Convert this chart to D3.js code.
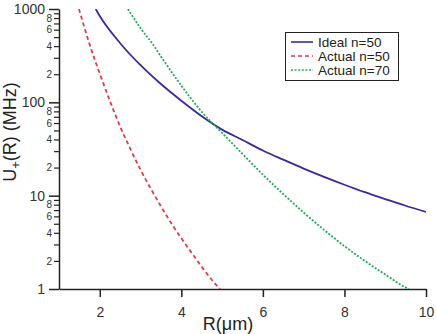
<!DOCTYPE html>
<html lang="en">
<head>
    <meta charset="UTF-8">
    <title>U+(R)</title>
    <script src="https://cdnjs.cloudflare.com/ajax/libs/d3/7.8.5/d3.min.js"></script>
    <style>
        body { margin: 0; background: #fff; }
        svg { display: block; font-family: "Liberation Sans", Arial, sans-serif; }
    </style>
</head>
<body>
<div id="chart"></div>
<script>
    // curve values
    var idealR   = [1.9, 2, 2.5, 3, 3.5, 4, 4.5, 5, 5.5, 6, 6.5, 7, 7.5, 8, 8.5, 9, 9.5, 10];
    var idealU   = [1000, 840, 430, 250, 157, 104, 71, 51, 39.5, 30.5, 24.3, 19.5, 15.9, 13.1, 10.9, 9.2, 7.8, 6.7];

    var act50R   = [1.49, 1.5, 1.75, 2, 2.25, 2.5, 2.75, 3, 3.25, 3.5, 3.75, 4, 4.25, 4.5, 4.75, 4.95];
    var act50U   = [1000, 966, 418, 203, 103, 55, 31.7, 18.9, 11.9, 7.7, 5.1, 3.5, 2.45, 1.73, 1.25, 1.0];

    var act70R   = [2.69, 3, 3.31, 3.5, 4, 4.5, 5, 5.5, 6, 6.5, 7, 7.5, 8, 8.5, 9, 9.5, 9.58];
    var act70U   = [1000, 622, 414, 310, 151, 79, 47, 28, 16.8, 10.4, 6.6, 4.3, 2.88, 2.0, 1.43, 1.04, 1.0];

    var xTicks = [2, 4, 6, 8, 10];
    var yMajor = [1, 10, 100, 1000];
    var legendNames = ["Ideal n=50", "Actual n=50", "Actual n=70"];

    var w = 436, h = 334;
    var x0 = 59, x1 = 426, yTop = 9, yBot = 289;

    var svg = d3.select("#chart").append("svg")
        .attr("width", w)
        .attr("height", h);

    var x = d3.scaleLinear().domain([1, 10]).range([x0, x1]);
    var y = d3.scaleLog().domain([1, 1000]).range([yBot, yTop]);

    svg.append("clipPath").attr("id", "plot")
        .append("rect").attr("x", x0).attr("y", yTop)
        .attr("width", x1 - x0).attr("height", yBot - yTop);

    // y axis: every 1..9 per decade, labels on majors and 2,4,6,8
    var yTicks = [];
    yMajor.forEach(function(m) {
        if (m === 1000) { yTicks.push(m); return; }
        for (var k = 1; k <= 9; k++) yTicks.push(m * k);
    });
    function lead(v) { return Math.round(v / Math.pow(10, Math.floor(Math.log10(v) + 1e-9))); }

    var yAxis = svg.append("g")
        .attr("transform", "translate(" + x0 + ",0)")
        .call(d3.axisLeft(y).tickValues(yTicks).tickSizeOuter(0).tickFormat(function(d) {
            var l = lead(d);
            if (l === 1) return d;
            return (l % 2 === 0) ? l : "";
        }));
    yAxis.select(".domain").attr("stroke", "#222").attr("stroke-width", 1.5);
    yAxis.selectAll(".tick").each(function(d) {
        var t = d3.select(this);
        var major = lead(d) === 1;
        t.select("line").attr("x2", major ? -10 : -5).attr("stroke", "#222").attr("stroke-width", major ? 1.5 : 1.2);
        t.select("text")
            .attr("x", major ? -14 : -7)
            .attr("fill", "#333")
            .style("font-size", major ? "14px" : "10px");
    });

    // x axis
    var xAxis = svg.append("g")
        .attr("transform", "translate(0," + yBot + ")")
        .call(d3.axisBottom(x).tickValues(xTicks).tickSize(8).tickPadding(10).tickSizeOuter(0));
    xAxis.select(".domain").attr("stroke", "#222").attr("stroke-width", 1.5);
    xAxis.selectAll(".tick line").attr("stroke", "#222").attr("stroke-width", 1.5);
    xAxis.selectAll(".tick text").attr("fill", "#333").style("font-size", "14px");

    // axis titles
    svg.append("text")
        .attr("x", 228).attr("y", 330)
        .attr("text-anchor", "middle")
        .attr("fill", "#222")
        .style("font-size", "18px")
        .text("R(μm)");

    var yt = svg.append("text")
        .attr("transform", "translate(16,132) rotate(-90)")
        .attr("text-anchor", "middle")
        .attr("fill", "#222")
        .style("font-size", "18px");
    yt.append("tspan").text("U");
    yt.append("tspan").attr("dy", 4).style("font-size", "13px").text("+");
    yt.append("tspan").attr("dy", -4).text("(R) (MHz)");

    // curves
    var series = [
        { r: idealR, u: idealU, color: "#3b2a9c", dash: null },
        { r: act50R, u: act50U, color: "#e23c46", dash: "4,3" },
        { r: act70R, u: act70U, color: "#22ad52", dash: "2,1.6" }
    ];

    var line = d3.line()
        .x(function(d) { return x(d[0]); })
        .y(function(d) { return y(d[1]); })
        .curve(d3.curveMonotoneX);

    series.forEach(function(s) {
        svg.append("path")
            .datum(d3.zip(s.r, s.u))
            .attr("clip-path", "url(#plot)")
            .attr("fill", "none")
            .attr("stroke", s.color)
            .attr("stroke-width", 1.8)
            .attr("stroke-dasharray", s.dash)
            .attr("d", line);
    });

    // legend
    var lg = svg.append("g");
    lg.append("rect")
        .attr("x", 285.5).attr("y", 32.5)
        .attr("width", 113).attr("height", 48)
        .attr("fill", "#fff").attr("stroke", "#222").attr("stroke-width", 1);
    legendNames.forEach(function(name, i) {
        var cy = 42 + i * 14;
        lg.append("line")
            .attr("x1", 291).attr("x2", 313)
            .attr("y1", cy).attr("y2", cy)
            .attr("stroke", series[i].color)
            .attr("stroke-width", 1.6)
            .attr("stroke-dasharray", series[i].dash);
        lg.append("text")
            .attr("x", 318).attr("y", cy)
            .attr("dy", "0.35em")
            .attr("fill", "#222")
            .style("font-size", "13.5px")
            .text(name);
    });
</script>
</body>
</html>
